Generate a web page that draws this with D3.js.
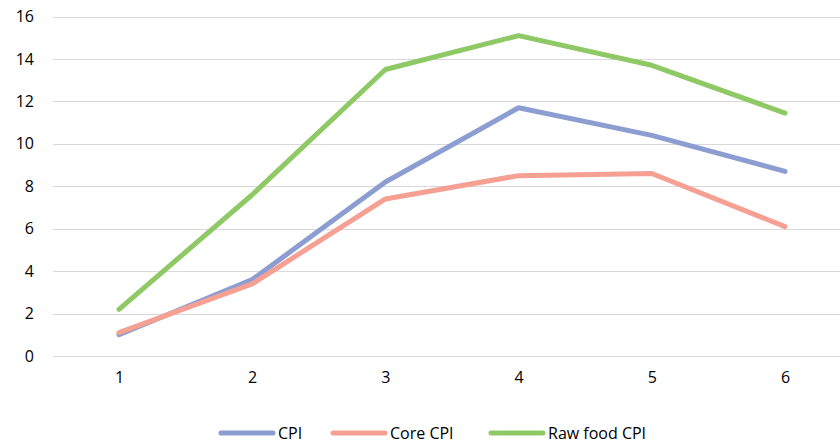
<!DOCTYPE html>
<html>
<head>
<meta charset="utf-8">
<script src="https://cdn.jsdelivr.net/npm/d3@7"></script>
<style>
  html, body { margin: 0; padding: 0; background: #fff; }
  svg { display: block; font-family: "Open Sans", "Noto Sans", sans-serif; }
</style>
</head>
<body>
<svg id="chart" width="840" height="443"></svg>
<script>
const categories = ["1", "2", "3", "4", "5", "6"];
const cpi = [1.0, 3.6, 8.2, 11.7, 10.4, 8.7];
const coreCpi = [1.1, 3.4, 7.4, 8.5, 8.6, 6.1];
const rawFoodCpi = [2.2, 7.6, 13.5, 15.1, 13.7, 11.45];
const yTicks = [0, 2, 4, 6, 8, 10, 12, 14, 16];
const seriesNames = ["CPI", "Core CPI", "Raw food CPI"];
const seriesColors = ["#8c9dd2", "#f5a093", "#8fc965"];

const series = [cpi, coreCpi, rawFoodCpi].map((values, i) => ({
  name: seriesNames[i], color: seriesColors[i], values
}));

const svg = d3.select("#chart");
const plot = { left: 52.4, right: 851.6, top: 16.5, bottom: 356 };

const x = d3.scalePoint().domain(categories)
  .range([plot.left, plot.right]).padding(0.5);
const y = d3.scaleLinear().domain([0, 16]).range([plot.bottom, plot.top]);

// horizontal gridlines
svg.append("g").selectAll("line").data(yTicks).join("line")
  .attr("x1", 53).attr("x2", 840)
  .attr("y1", d => Math.round(y(d)) + 0.5).attr("y2", d => Math.round(y(d)) + 0.5)
  .attr("stroke", "#d9d9d9").attr("stroke-width", 1);

// y-axis labels
const yAxis = d3.axisLeft(y).tickValues(yTicks).tickSize(0).tickPadding(0);
const gy = svg.append("g").attr("transform", "translate(34,0)").call(yAxis);
gy.select(".domain").remove();
gy.selectAll("text").attr("font-size", 16).attr("fill", "#000")
  .attr("font-family", "Open Sans, sans-serif");

// x-axis labels
const xAxis = d3.axisBottom(x).tickSize(0).tickPadding(0);
const gx = svg.append("g").attr("transform", "translate(0,372)").call(xAxis);
gx.select(".domain").remove();
gx.selectAll("text").attr("font-size", 16).attr("fill", "#000")
  .attr("font-family", "Open Sans, sans-serif");

// series lines
const line = d3.line().x((d, i) => x(categories[i])).y(d => y(d));
svg.append("g").selectAll("path").data(series).join("path")
  .attr("d", d => line(d.values))
  .attr("fill", "none")
  .attr("stroke", d => d.color)
  .attr("stroke-width", 5)
  .attr("stroke-linecap", "round")
  .attr("stroke-linejoin", "round");

// legend
const legendX = [221, 333, 491];
const legend = svg.append("g").selectAll("g").data(series).join("g")
  .attr("transform", (d, i) => `translate(${legendX[i]},433)`);
legend.append("line")
  .attr("x1", 0).attr("x2", 52).attr("y1", 0).attr("y2", 0)
  .attr("stroke", d => d.color).attr("stroke-width", 5)
  .attr("stroke-linecap", "round");
legend.append("text")
  .attr("x", 57).attr("y", 0).attr("dy", "0.35em")
  .attr("font-size", 16).attr("fill", "#000")
  .text(d => d.name);
</script>
</body>
</html>
